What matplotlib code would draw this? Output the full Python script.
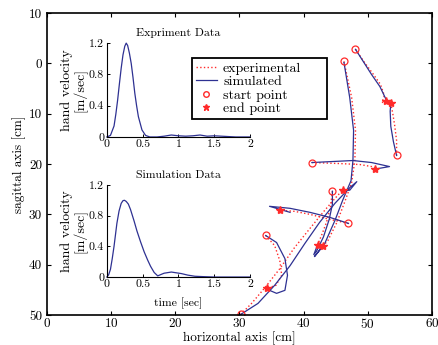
import matplotlib
matplotlib.use("Agg")
import matplotlib.pyplot as plt
from matplotlib.lines import Line2D

plt.rcParams['font.family'] = 'serif'
plt.rcParams['font.serif'] = ['cmr10']
plt.rcParams['mathtext.fontset'] = 'cm'
plt.rcParams['axes.formatter.use_mathtext'] = True

blue = '#2e3192'
red = '#ff2a2a'

# reaching trajectories (x, y) in cm
sim_paths = [
    [(48.1, -2.8), (49.4, -0.2), (50.6, 2.2), (51.9, 4.6), (52.8, 7.0), (53.3, 7.8)],
    [(54.5, 18.3), (54.0, 15.5), (53.6, 12.5), (53.5, 9.5), (53.6, 7.95)],
    [(46.3, -0.2), (47.2, 6.8), (47.8, 13.3), (47.7, 19.3), (47.4, 23.3), (46.1, 27.2),
     (44.9, 31.2), (43.3, 35.8), (41.7, 38.4), (43.1, 36.2)],
    [(41.3, 19.7), (47.7, 19.3), (50.6, 19.7), (53.4, 20.5), (51.6, 20.9)],
    [(44.5, 25.4), (44.5, 28.0), (44.0, 31.0), (43.1, 34.5), (42.0, 37.4), (41.6, 38.0), (42.2, 36.0)],
    [(47.0, 31.8), (44.1, 30.6), (41.0, 29.6), (37.9, 28.8), (34.7, 28.4), (37.9, 29.6)],
    [(34.1, 34.2), (35.8, 35.6), (37.1, 38.8), (37.5, 42.1), (37.1, 45.1), (35.8, 45.7), (34.7, 45.1)],
    [(30.2, 49.9), (32.9, 47.7), (35.5, 44.1), (37.9, 40.2), (40.2, 35.8), (42.5, 31.6),
     (44.9, 27.8), (47.2, 24.7), (48.3, 23.5), (47.2, 25.2), (46.1, 25.2)],
]
exp_paths = [
    [(48.1, -2.8), (49.5, -0.2), (50.9, 2.2), (52.0, 4.2), (52.6, 6.4), (52.2, 7.8), (52.8, 7.4)],
    [(54.5, 18.3), (54.5, 15.3), (54.2, 12.3), (53.9, 9.9), (53.6, 7.95)],
    [(46.3, -0.4), (47.5, 6.8), (48.1, 13.3), (48.0, 19.3), (47.5, 23.7), (46.4, 27.6),
     (45.2, 31.6), (43.8, 35.2), (43.1, 36.2)],
    [(41.3, 19.7), (45.6, 19.9), (48.8, 20.1), (50.6, 20.5), (51.2, 20.9)],
    [(44.5, 25.4), (44.2, 28.5), (43.6, 31.5), (42.8, 34.2), (42.2, 36.0)],
    [(47.0, 31.8), (44.1, 31.0), (41.0, 30.0), (38.6, 29.4), (36.4, 29.2)],
    [(34.1, 34.2), (35.5, 36.2), (36.3, 39.2), (36.6, 42.1), (35.7, 44.1), (34.3, 44.7)],
    [(30.2, 49.9), (31.9, 47.7), (33.9, 44.7), (36.3, 40.8), (38.6, 36.6), (41.0, 32.8),
     (43.3, 29.2), (45.2, 26.4), (46.1, 25.2)],
]
start_x = [48.0, 46.3, 54.5, 41.3, 44.5, 47.0, 34.1, 30.2]
start_y = [-2.8, -0.4, 18.3, 19.7, 25.4, 31.8, 34.2, 49.9]
end_x = [52.8, 53.6, 51.2, 46.1, 36.4, 42.2, 43.1, 34.3]
end_y = [7.4, 7.95, 20.9, 25.2, 29.2, 36.0, 36.2, 44.7]

# hand velocity profiles
t_exp = [0, 0.05, 0.1, 0.125, 0.15, 0.175, 0.2, 0.225, 0.25, 0.27, 0.29, 0.315, 0.34,
         0.365, 0.39, 0.415, 0.44, 0.49, 0.54, 0.6, 0.7, 0.8, 0.9, 1.0, 1.1, 1.2, 1.3,
         1.4, 1.5, 1.6, 1.8, 2.0]
v_exp = [0, 0.02, 0.14, 0.29, 0.47, 0.68, 0.88, 1.05, 1.16, 1.2, 1.17, 1.07, 0.94,
         0.76, 0.56, 0.4, 0.26, 0.09, 0.02, 0.0, 0.0, 0.01, 0.025, 0.015, 0.01, 0.015,
         0.025, 0.01, 0.015, 0.01, 0.0, 0.0]
t_sim = [0, 0.025, 0.05, 0.075, 0.1, 0.14, 0.17, 0.2, 0.225, 0.245, 0.27, 0.3, 0.33,
         0.38, 0.42, 0.47, 0.52, 0.57, 0.61, 0.66, 0.71, 0.76, 0.8, 0.9, 1.04, 1.13,
         1.23, 1.35, 1.5, 2.0]
v_sim = [0, 0.03, 0.1, 0.24, 0.4, 0.7, 0.86, 0.96, 0.995, 1.0, 0.985, 0.95, 0.88,
         0.73, 0.6, 0.46, 0.33, 0.22, 0.14, 0.06, 0.015, 0.035, 0.05, 0.065, 0.045,
         0.025, 0.01, 0.005, 0.0, 0.0]

fig = plt.figure(figsize=(4.38, 3.45), dpi=100)
ax = fig.add_axes([0.107, 0.087, 0.879, 0.875])

for p in exp_paths:
    ax.plot([q[0] for q in p], [q[1] for q in p], color=red, ls=':', lw=1.0)
for p in sim_paths:
    ax.plot([q[0] for q in p], [q[1] for q in p], color=blue, ls='-', lw=0.9)
ax.plot(start_x, start_y, 'o', mfc='none', mec=red, ms=5, mew=0.9)
ax.plot(end_x, end_y, '*', color=red, ms=6)

ax.set_xlim(0, 60)
ax.set_ylim(50, -10)
ax.set_xticks([0, 10, 20, 30, 40, 50, 60])
ax.set_yticks([-10, 0, 10, 20, 30, 40, 50])
ax.set_yticklabels(['10', '0', '10', '20', '30', '40', '50'])
ax.tick_params(direction='in', top=True, right=True, labelsize=9.5, length=3, width=0.8)
ax.tick_params(axis='x', pad=1.5)
for s in ax.spines.values():
    s.set_linewidth(1.2)
ax.set_xlabel('horizontal axis [cm]', fontsize=9.5, labelpad=0)
ax.set_ylabel('sagittal axis [cm]', fontsize=9.5, labelpad=2)

handles = [
    Line2D([], [], color=red, ls=':', lw=1.0),
    Line2D([], [], color=blue, ls='-', lw=0.9),
    Line2D([], [], ls='none', marker='o', mfc='none', mec=red, ms=4),
    Line2D([], [], ls='none', marker='*', color=red, ms=4.5),
]
leg = fig.legend(handles, ['experimental', 'simulated', 'start point', 'end point'],
                 loc='upper left', bbox_to_anchor=(0.438, 0.672, 0.308, 0.16),
                 mode='expand', borderaxespad=0,
                 fontsize=10, frameon=True, fancybox=False, edgecolor='black',
                 framealpha=1, handlelength=1.5, labelspacing=0.05, borderpad=0.3,
                 handletextpad=0.45)
leg.get_frame().set_linewidth(1.3)


def inset(rect, t, v, title, xlabel=None):
    a = fig.add_axes(rect)
    a.plot(t, v, color=blue, lw=0.9, clip_on=False)
    a.set_xlim(0, 2)
    a.set_ylim(0, 1.2)
    a.set_xticks([0, 0.5, 1, 1.5, 2])
    a.set_xticklabels(['0', '0.5', '1', '1.5', '2'])
    a.set_yticks([0, 0.4, 0.8, 1.2])
    a.set_yticklabels(['0', '0.4', '0.8', '1.2'])
    a.spines['top'].set_visible(False)
    a.spines['right'].set_visible(False)
    a.tick_params(direction='in', labelsize=8.5, length=2.5, width=0.7, pad=2)
    a.patch.set_alpha(0)
    a.set_title(title, fontsize=8.5, pad=5)
    a.set_ylabel('hand velocity\n[m/sec]', fontsize=10, labelpad=1, linespacing=1.0)
    if xlabel:
        a.set_xlabel(xlabel, fontsize=8.5, labelpad=6)
    return a


inset([0.244, 0.603, 0.327, 0.272], t_exp, v_exp, 'Expriment Data')
inset([0.244, 0.197, 0.327, 0.267], t_sim, v_sim, 'Simulation Data', 'time [sec]')

fig.savefig('out.png', dpi=100)
